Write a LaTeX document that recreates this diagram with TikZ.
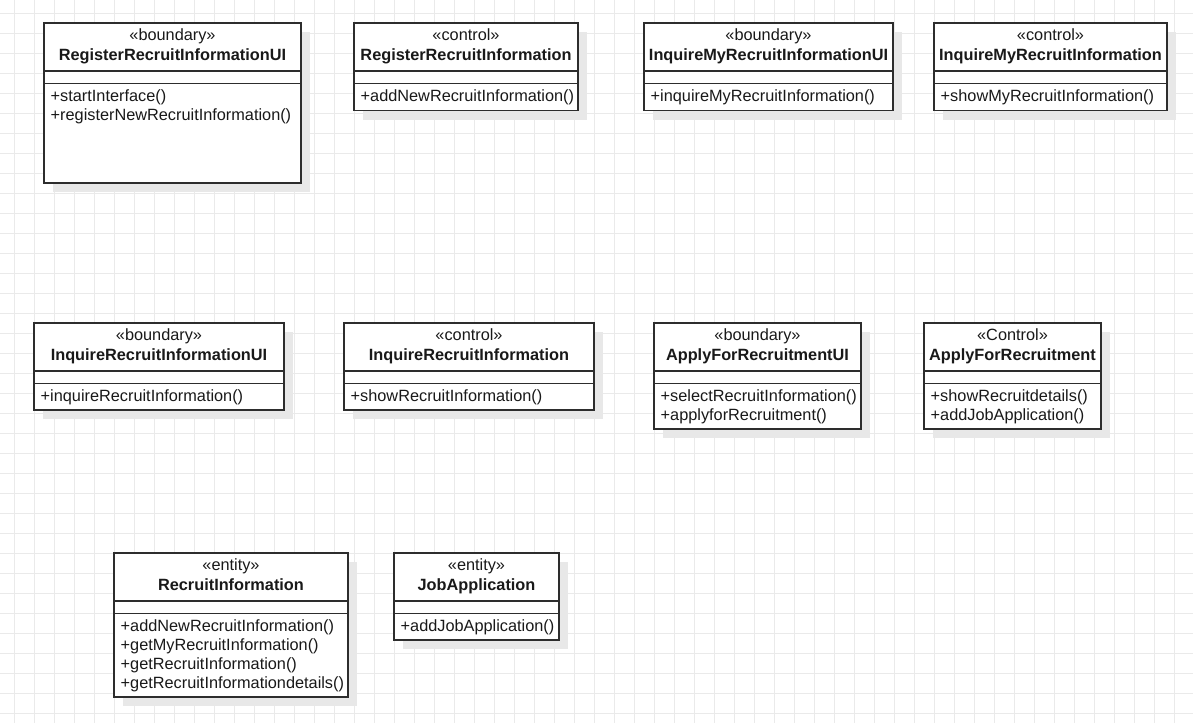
\documentclass[tikz,border=0pt]{standalone}
\usepackage{fontspec}
\setmainfont{Liberation Sans}
\definecolor{gridc}{RGB}{234,234,234}
\definecolor{shadc}{RGB}{232,232,232}
\definecolor{linec}{RGB}{45,45,45}
\definecolor{textc}{RGB}{25,25,25}
\tikzset{
  classframe/.style={draw=linec, line width=1.15pt, fill=white, inner sep=0pt, outer sep=0pt, anchor=north west},
  stereo/.style={anchor=base, inner sep=0pt, text=textc, font=\fontsize{16.3}{19}\selectfont},
  cname/.style={anchor=base, inner sep=0pt, text=textc, font=\fontsize{16.3}{19}\selectfont\bfseries},
  method/.style={anchor=base west, inner sep=0pt, text=textc, font=\fontsize{16.3}{19}\selectfont},
  divider/.style={draw=linec, line width=1.15pt},
  gridline/.style={draw=gridc, line width=1pt},
  shadowbox/.style={fill=shadc},
}
\newcommand{\classbox}[8]{%
  \fill[shadowbox] (#2+9,#3+9) rectangle (#4+9,#5+9);
  \node[classframe, minimum width=#4-#2, minimum height=#5-#3] (#1) at (#2,#3) {};
  \node[stereo] (#1-st) at ({(#2+#4)/2},#3+17.3) {«#6»};
  \node[cname] (#1-nm) at ({(#2+#4)/2},#3+37) {#7};
  \draw[divider] (#2,#3+48) -- (#4,#3+48);
  \draw[divider] (#2,#3+60.5) -- (#4,#3+60.5);
  \foreach \m [count=\i] in {#8} {\node[method] (#1-m\i) at (#2+6.5,{#3+78+19*(\i-1)}) {\m};}
}
\begin{document}
\begin{tikzpicture}[x=1pt,y=-1pt]
\useasboundingbox[fill=white] (0,0) rectangle (1193,723);
\foreach \gx in {0,...,58} {\draw[gridline] (14.3+20*\gx,0) -- (14.3+20*\gx,723);}
\foreach \gy in {0,...,35} {\draw[gridline] (0,13.3+20*\gy) -- (1193,13.3+20*\gy);}

\classbox{rriui}{44}{23}{301}{183}{boundary}{RegisterRecruitInformationUI}{+startInterface(),+registerNewRecruitInformation()}
\classbox{rri}{354}{23}{578}{110.5}{control}{RegisterRecruitInformation}{+addNewRecruitInformation()}
\classbox{imriui}{644}{23}{893}{110.5}{boundary}{InquireMyRecruitInformationUI}{+inquireMyRecruitInformation()}
\classbox{imri}{934}{23}{1167}{110.5}{control}{InquireMyRecruitInformation}{+showMyRecruitInformation()}

\classbox{iriui}{34}{323}{284}{410}{boundary}{InquireRecruitInformationUI}{+inquireRecruitInformation()}
\classbox{iri}{344}{323}{594}{410}{control}{InquireRecruitInformation}{+showRecruitInformation()}
\classbox{afrui}{654}{323}{861}{429}{boundary}{ApplyForRecruitmentUI}{+selectRecruitInformation(),+applyforRecruitment()}
\classbox{afr}{924}{323}{1101}{429}{Control}{ApplyForRecruitment}{+showRecruitdetails(),+addJobApplication()}

\classbox{ri}{114}{553}{348}{697}{entity}{RecruitInformation}{+addNewRecruitInformation(),+getMyRecruitInformation(),+getRecruitInformation(),+getRecruitInformationdetails()}
\classbox{ja}{394}{553}{559}{640}{entity}{JobApplication}{+addJobApplication()}
\end{tikzpicture}
\end{document}
